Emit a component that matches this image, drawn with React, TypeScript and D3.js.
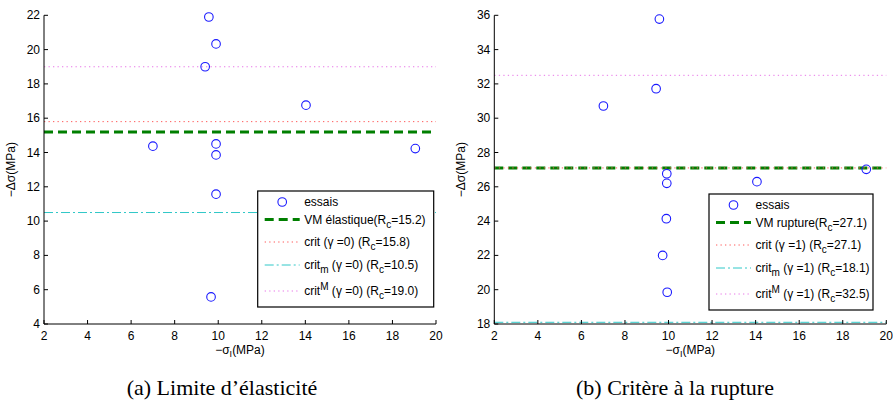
import React from "react";
import * as d3 from "d3";

const xTicks = [2, 4, 6, 8, 10, 12, 14, 16, 18, 20];
const leftYTicks = [4, 6, 8, 10, 12, 14, 16, 18, 20, 22];
const rightYTicks = [18, 20, 22, 24, 26, 28, 30, 32, 34, 36];

const leftX = [9.57, 9.9, 9.4, 14.03, 7.0, 9.9, 9.9, 19.05, 9.9, 9.67];
const leftY = [21.9, 20.33, 19.0, 16.76, 14.37, 14.5, 13.86, 14.23, 11.57, 5.58];
const rightX = [9.58, 9.43, 7.01, 9.92, 9.92, 14.06, 19.08, 9.9, 9.73, 9.94];
const rightY = [35.78, 31.72, 30.71, 26.76, 26.2, 26.3, 27.02, 24.14, 22.0, 19.85];

// Rc values: [VM, crit, crit_m, crit^M]
const leftRc = [15.2, 15.8, 10.5, 19.0];
const rightRc = [27.1, 27.1, 18.1, 32.5];
const leftGamma = "0";
const rightGamma = "1";
const leftVM = "VM élastique";
const rightVM = "VM rupture";
const captions = ["(a) Limite d\u2019élasticité", "(b) Critère à la rupture"];

const FONT = "'Liberation Sans', Arial, Helvetica, sans-serif";

const styles = [
  { stroke: "#007f00", width: 3, dash: "9,5" },
  { stroke: "#ff5a5a", width: 1, dash: "1.3,3.2" },
  { stroke: "#30c8c8", width: 1, dash: "9,3,2,3" },
  { stroke: "#e878e8", width: 1, dash: "1.3,3.2" },
];

type PanelProps = {
  x0: number;
  yDomain: [number, number];
  yTicks: number[];
  xs: number[];
  ys: number[];
  rc: number[];
  gamma: string;
  vm: string;
  legend: { x: number; y: number; w: number };
  caption: string;
  captionX: number;
};

function Panel(p: PanelProps) {
  const x = d3.scaleLinear().domain([2, 20]).range([p.x0, p.x0 + 392]);
  const y = d3.scaleLinear().domain(p.yDomain).range([324, 15.3]);
  const [xl, xr] = x.range();
  const [yb, yt] = y.range();
  const cx = (xl + xr) / 2;
  const cy = (yb + yt) / 2;
  const order = [3, 2, 0, 1];
  const rowOff = [11, 28.5, 51, 74, 100];
  const L = p.legend;
  const lx1 = L.x + 7;
  const lx2 = L.x + 42;
  const tx = L.x + 46.5;
  const fmt = (v: number) => v.toFixed(1);
  const sub = (s: string) => (
    <tspan dy={4} fontSize={10}>{s}</tspan>
  );
  const labels = [
    <>
      {p.vm}(R{sub("c")}<tspan dy={-4}>={fmt(p.rc[0])})</tspan>
    </>,
    <>
      crit ({"\u03b3"} ={p.gamma}) (R{sub("c")}<tspan dy={-4}>={fmt(p.rc[1])})</tspan>
    </>,
    <>
      crit{sub("m")}
      <tspan dy={-4}> ({"\u03b3"} ={p.gamma}) (R</tspan>
      {sub("c")}
      <tspan dy={-4}>={fmt(p.rc[2])})</tspan>
    </>,
    <>
      crit<tspan dy={-5} fontSize={10}>M</tspan>
      <tspan dy={5}> ({"\u03b3"} ={p.gamma}) (R</tspan>
      {sub("c")}
      <tspan dy={-4}>={fmt(p.rc[3])})</tspan>
    </>,
  ];
  return (
    <g fontFamily={FONT}>
      {order.map((i) => (
        <line
          key={"h" + i}
          x1={xl}
          x2={xr}
          y1={y(p.rc[i])}
          y2={y(p.rc[i])}
          stroke={styles[i].stroke}
          strokeWidth={styles[i].width}
          strokeDasharray={styles[i].dash}
        />
      ))}
      {p.xs.map((v, i) => (
        <circle key={"c" + i} cx={x(v)} cy={y(p.ys[i])} r={4.3} fill="none" stroke="#1a1aff" strokeWidth={1.1} />
      ))}
      <line x1={xl} x2={xr} y1={yb} y2={yb} stroke="#000" strokeWidth={1} />
      <line x1={xl} x2={xl} y1={yb} y2={yt} stroke="#000" strokeWidth={1} />
      {xTicks.map((t) => (
        <g key={"xt" + t}>
          <line x1={x(t)} x2={x(t)} y1={yb} y2={yb - 4} stroke="#000" />
          <text x={x(t)} y={yb + 16} textAnchor="middle" fontSize={12} fill="#000">{t}</text>
        </g>
      ))}
      {p.yTicks.map((t) => (
        <g key={"yt" + t}>
          <line x1={xl} x2={xl + 4} y1={y(t)} y2={y(t)} stroke="#000" />
          <text x={xl - 4} y={y(t) + 4} textAnchor="end" fontSize={12} fill="#000">{t}</text>
        </g>
      ))}
      <text x={cx} y={354} textAnchor="middle" fontSize={12} fill="#000">
        {"\u2212\u03c3"}<tspan dy={3} fontSize={9}>I</tspan><tspan dy={-3}>(MPa)</tspan>
      </text>
      <text transform={`translate(${p.x0 - 29},${cy}) rotate(-90)`} textAnchor="middle" fontSize={12} fill="#000">
        {"\u2212\u0394\u03c3(MPa)"}
      </text>
      <rect x={L.x} y={L.y} width={L.w} height={116} fill="#fff" stroke="#000" strokeWidth={1.2} />
      <circle cx={(lx1 + lx2) / 2} cy={L.y + rowOff[0]} r={4.3} fill="none" stroke="#1a1aff" strokeWidth={1.1} />
      <text x={tx} y={L.y + rowOff[0] + 4} fontSize={12} fill="#000">essais</text>
      {[0, 1, 2, 3].map((i) => (
        <g key={"lg" + i}>
          <line
            x1={lx1}
            x2={lx2}
            y1={L.y + rowOff[i + 1]}
            y2={L.y + rowOff[i + 1]}
            stroke={styles[i].stroke}
            strokeWidth={styles[i].width}
            strokeDasharray={styles[i].dash}
          />
          <text x={tx} y={L.y + rowOff[i + 1] + 4} fontSize={12} fill="#000">{labels[i]}</text>
        </g>
      ))}
      <text x={p.captionX} y={395} textAnchor="middle" fontSize={22} fontFamily="'Liberation Serif', 'Times New Roman', serif" fill="#000">
        {p.caption}
      </text>
    </g>
  );
}

export default function App() {
  return (
    <svg width={893} height={407} style={{ position: "absolute", left: 0, top: 0, background: "#fff" }}>
      <rect width={893} height={407} fill="#fff" />
      <Panel
        x0={44}
        yDomain={[4, 22]}
        yTicks={leftYTicks}
        xs={leftX}
        ys={leftY}
        rc={leftRc}
        gamma={leftGamma}
        vm={leftVM}
        legend={{ x: 257.7, y: 191, w: 176 }}
        caption={captions[0]}
        captionX={222}
      />
      <Panel
        x0={494.3}
        yDomain={[18, 36]}
        yTicks={rightYTicks}
        xs={rightX}
        ys={rightY}
        rc={rightRc}
        gamma={rightGamma}
        vm={rightVM}
        legend={{ x: 709, y: 194, w: 164 }}
        caption={captions[1]}
        captionX={675}
      />
    </svg>
  );
}
